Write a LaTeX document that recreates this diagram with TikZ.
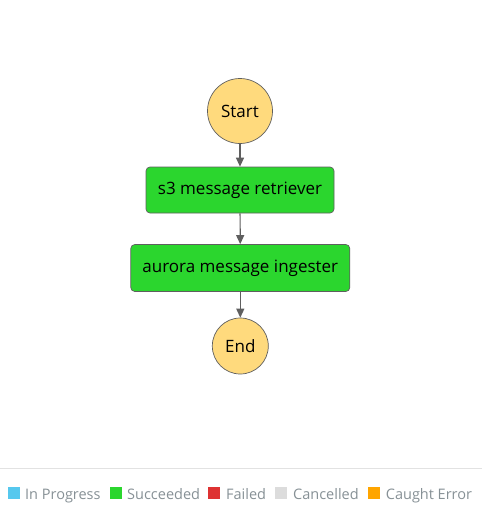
\documentclass[tikz,border=0pt]{standalone}
\usepackage{fontspec}
\setmainfont{Open Sans}
\usetikzlibrary{arrows.meta}
\definecolor{okgreen}{HTML}{2BD62E}
\definecolor{startfill}{HTML}{FFDA7D}
\definecolor{edge}{HTML}{5F5F5F}
\definecolor{legtext}{HTML}{879196}
\definecolor{legblue}{HTML}{56C8EE}
\definecolor{legred}{HTML}{DE3232}
\definecolor{leggray}{HTML}{DCDCDC}
\definecolor{legorange}{HTML}{FFA500}
\definecolor{sepline}{HTML}{E2E2E2}
\tikzset{
  term/.style={circle, draw=edge, fill=startfill, line width=0.7pt, inner sep=0pt, font=\fontsize{17}{20}\selectfont},
  task/.style={rectangle, rounded corners=4pt, draw=edge, fill=okgreen, line width=0.7pt, inner sep=0pt, font=\fontsize{17}{20}\selectfont},
  flow/.style={-{Triangle[length=9pt,width=8pt]}, draw=edge, line width=1.2pt},
  legsq/.style={rectangle, inner sep=0pt, minimum size=12pt},
  legtxt/.style={anchor=base west, inner sep=0pt, text=legtext, font=\fontsize{14.5}{17}\selectfont}
}
\begin{document}
\begin{tikzpicture}[x=1pt,y=-1pt]
\useasboundingbox[fill=white] (0,0) rectangle (482,512);
\node[term, minimum size=65pt] (start) at (240,111) {Start};
\node[task, minimum width=188pt, minimum height=46pt] (s3) at (240,190) {s3 message retriever};
\node[task, minimum width=219pt, minimum height=47pt] (aurora) at (240.3,268) {aurora message ingester};
\node[term, minimum size=56pt] (end) at (240.3,346) {End};
\draw[flow] (start) -- (s3);
\draw[flow] (s3) -- (aurora);
\draw[flow] (aurora) -- (end);
\coordinate (sepL) at (0,468.3);
\coordinate (sepR) at (482,468.3);
\draw[sepline, line width=1pt] (sepL) -- (sepR);
\node[legsq, fill=legblue] (q1) at (14,493) {};
\node[legtxt] (t1) at (25,499) {In Progress};
\node[legsq, fill=okgreen] (q2) at (115.8,493) {};
\node[legtxt] (t2) at (127,499) {Succeeded};
\node[legsq, fill=legred] (q3) at (214.3,493) {};
\node[legtxt] (t3) at (226,499) {Failed};
\node[legsq, fill=leggray] (q4) at (281.3,493) {};
\node[legtxt] (t4) at (293,499) {Cancelled};
\node[legsq, fill=legorange] (q5) at (374,493) {};
\node[legtxt] (t5) at (385.7,499) {Caught Error};
\end{tikzpicture}
\end{document}
